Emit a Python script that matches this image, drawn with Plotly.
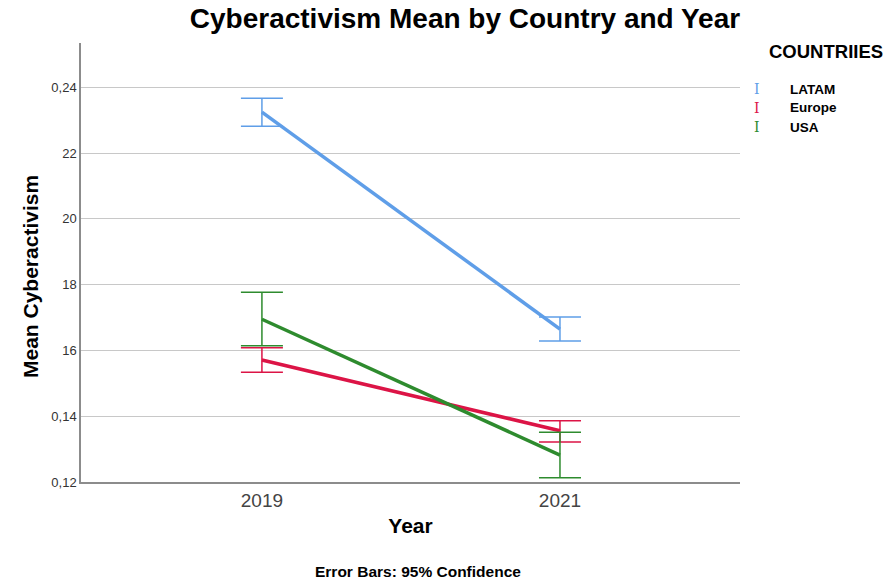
import plotly.graph_objects as go

years = ["2019", "2021"]
countries = ["LATAM", "Europe", "USA"]
colors = ["#5f9ee8", "#dc1446", "#2e8b2e"]
means = {
    "LATAM": [23.25, 16.65],
    "Europe": [15.71, 13.56],
    "USA": [16.95, 12.82],
}
ci_upper = {
    "LATAM": [23.67, 17.02],
    "Europe": [16.08, 13.86],
    "USA": [17.77, 13.51],
}
ci_lower = {
    "LATAM": [22.82, 16.29],
    "Europe": [15.34, 13.22],
    "USA": [16.14, 12.13],
}
y_tickvals = [12, 14, 16, 18, 20, 22, 24]
y_ticktext = ["0,12", "0,14", "16", "18", "20", "22", "0,24"]

fig = go.Figure()
for c, col in zip(countries, colors):
    m = means[c]
    up = [u - v for u, v in zip(ci_upper[c], m)]
    lo = [v - l for v, l in zip(m, ci_lower[c])]
    # error bars
    fig.add_trace(go.Scatter(
        x=years, y=m, mode="markers", marker=dict(size=1, color=col, opacity=0),
        error_y=dict(type="data", symmetric=False, array=up, arrayminus=lo,
                     color=col, thickness=1.5, width=21),
        showlegend=False, hoverinfo="skip"))
    # mean line
    fig.add_trace(go.Scatter(
        x=years, y=m, mode="lines", line=dict(color=col, width=3.5),
        name=c, showlegend=False))

fig.update_layout(
    width=889, height=581,
    margin=dict(l=81, r=149, t=43, b=99),
    paper_bgcolor="white", plot_bgcolor="white",
    font=dict(family="Liberation Sans, Arial, sans-serif", color="#000"),
    title=dict(text="<b>Cyberactivism Mean by Country and Year</b>",
               x=0.523, xanchor="center", y=0.968, yanchor="middle",
               font=dict(size=28, color="#000")),
    xaxis=dict(type="category", range=[-0.607, 1.604], showgrid=False,
               showline=True, linecolor="#8c8c8c", linewidth=1.5,
               ticks="", tickfont=dict(size=19, color="#444"),
               title=dict(text="<b>Year</b>", font=dict(size=21), standoff=9),
               zeroline=False),
    yaxis=dict(range=[12, 25.35], tickvals=y_tickvals, ticktext=y_ticktext,
               showgrid=True, gridcolor="#c8c8c8", gridwidth=1.2,
               showline=True, linecolor="#8c8c8c", linewidth=1.5,
               ticks="", tickfont=dict(size=13, color="#333"),
               zeroline=False),
    showlegend=False,
)

# Y axis title (placed as in reference, slightly below plot centre)
fig.add_annotation(text="<b>Mean Cyberactivism</b>", xref="paper", yref="paper",
                   x=(30 - 81) / 659, y=1 - (277 - 43) / 439, textangle=-90,
                   xanchor="center", yanchor="middle", showarrow=False,
                   font=dict(size=21, color="#000"))

# Legend built from annotations
fig.add_annotation(text="<b>COUNTRIIES</b>", xref="paper", yref="paper",
                   x=1 + (826 - 740) / 659, y=1 + (43 - 52) / 439,
                   xanchor="center", yanchor="middle", showarrow=False,
                   font=dict(size=18.5, color="#000"))
for i, (c, col) in enumerate(zip(countries, colors)):
    py = 89 + i * 19
    fig.add_annotation(text="I", xref="paper", yref="paper",
                       x=1 + (757 - 740) / 659, y=1 - (py - 43) / 439,
                       xanchor="center", yanchor="middle", showarrow=False,
                       font=dict(size=14, color=col, family="DejaVu Serif"))
    fig.add_annotation(text="<b>" + c + "</b>", xref="paper", yref="paper",
                       x=1 + (788 - 740) / 659, y=1 - (py - 43) / 439,
                       xanchor="left", yanchor="middle", showarrow=False,
                       font=dict(size=13.5, color="#000"))

fig.add_annotation(text="<b>Error Bars: 95% Confidence</b>", xref="paper", yref="paper",
                   x=(418 - 81) / 659, y=-(571 - 482) / 439,
                   xanchor="center", yanchor="middle", showarrow=False,
                   font=dict(size=15.5, color="#000"))

fig.write_html("out.html")
